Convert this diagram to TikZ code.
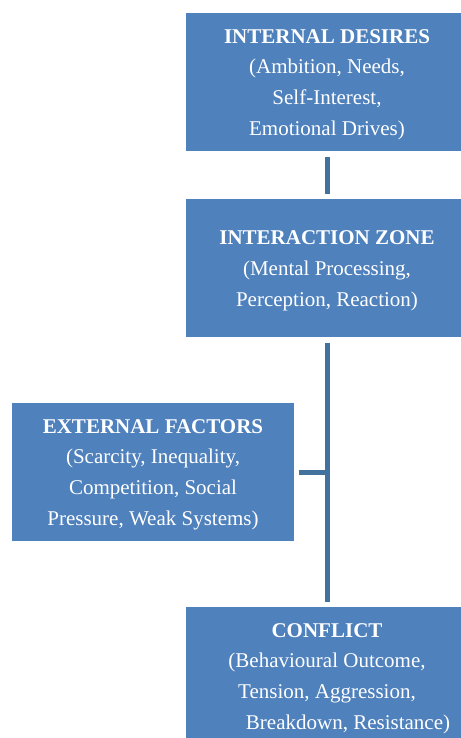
\documentclass[tikz,border=0pt]{standalone}
\usepackage{fontspec}
\setmainfont{Liberation Serif}
\definecolor{boxblue}{HTML}{4F81BD}
\definecolor{lineblue}{HTML}{41719C}
\newcommand{\toppad}{\rule{0pt}{19pt}}
\begin{document}
\begin{tikzpicture}[x=1pt,y=-1pt,
  box/.style={rectangle, fill=boxblue, minimum width=282pt, minimum height=138pt,
    inner sep=0pt, text=white, align=center, font=\fontsize{21}{30.8}\selectfont},
  conn/.style={draw=lineblue, line width=5pt, shorten <=6pt, shorten >=5pt}]
\useasboundingbox (0,0) rectangle (460,738);
\node[box] (b1) at (327,82) {\toppad\textbf{INTERNAL DESIRES}\\(Ambition, Needs,\\Self-Interest,\\Emotional Drives)};
\node[box] (b2) at (327,268) {\toppad\textbf{INTERACTION ZONE}\\(Mental Processing,\\Perception, Reaction)};
\node[box] (b3) at (153,472) {\toppad\textbf{EXTERNAL FACTORS}\\(Scarcity, Inequality,\\Competition, Social\\Pressure, Weak Systems)};
\node[box] (b4) at (327,676) {\toppad\textbf{CONFLICT}\\(Behavioural Outcome,\\Tension, Aggression,\\\hspace*{42pt}Breakdown, Resistance)};
\coordinate (j) at (b3.east -| b2.south);
\draw[conn] (b1.south) -- (b2.north);
\draw[conn] (b2.south) -- (b4.north);
\draw[conn, shorten >=0pt, shorten <=5pt] (b3.east) -- ([xshift=-2.5pt]j);
\end{tikzpicture}
\end{document}
